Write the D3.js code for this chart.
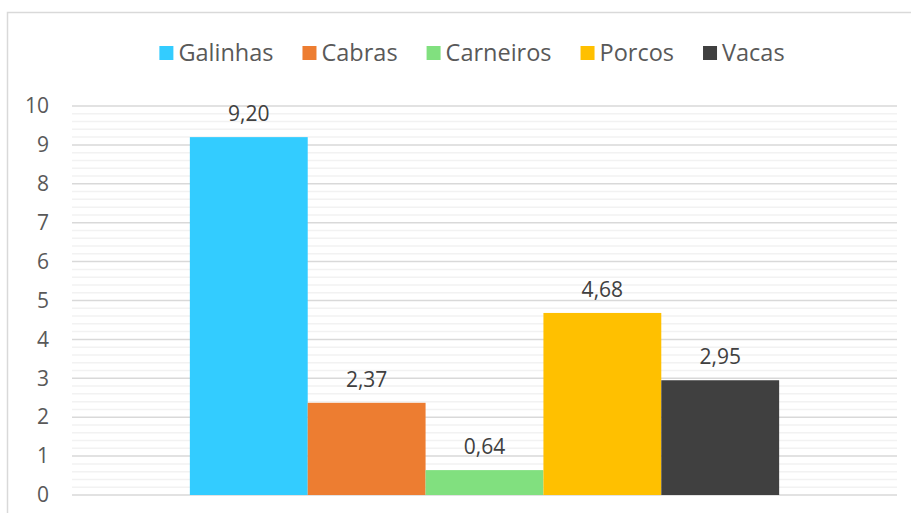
<!DOCTYPE html>
<html>
<head>
<meta charset="utf-8">
<script src="https://cdn.jsdelivr.net/npm/d3@7"></script>
<style>
  body { margin: 0; background: #fff; }
  svg { display: block; font-family: "Open Sans", sans-serif; }
</style>
</head>
<body>
<div id="chart"></div>
<script>
var categories = ["Animais"];
var series = ["Galinhas", "Cabras", "Carneiros", "Porcos", "Vacas"];
var values = [9.20, 2.37, 0.64, 4.68, 2.95];
var colors = ["#33ccff", "#ed7d31", "#81e07f", "#ffc000", "#404040"];
var yTicks = [0, 1, 2, 3, 4, 5, 6, 7, 8, 9, 10];

var width = 911, height = 513;
var margin = {top: 106, right: 14, bottom: 18, left: 72};

var svg = d3.select("#chart").append("svg")
    .attr("width", width)
    .attr("height", height);

// frame of the chart
svg.append("rect")
    .attr("x", 7.5).attr("y", 12.5)
    .attr("width", 930).attr("height", 530)
    .attr("fill", "#fff")
    .attr("stroke", "#d9d9d9")
    .attr("stroke-width", 1.5);

var innerW = width - margin.left - margin.right,
    innerH = height - margin.top - margin.bottom;

var g = svg.append("g").attr("transform", "translate(" + margin.left + "," + margin.top + ")");

var x0 = d3.scaleBand()
    .domain(categories)
    .range([0, innerW])
    .paddingInner(0)
    .paddingOuter(0.2);

var x1 = d3.scaleBand()
    .domain(series)
    .range([0, x0.bandwidth()]);

var y = d3.scaleLinear()
    .domain([0, 10])
    .range([innerH, 0]);

var z = d3.scaleOrdinal().domain(series).range(colors);

// minor grid every 0.2
var minor = d3.range(0, 10.001, 0.2).filter(function(v) { return Math.abs(v - Math.round(v)) > 0.01; });
g.append("g").selectAll("line")
    .data(minor)
    .enter().append("line")
    .attr("x1", 0).attr("x2", innerW)
    .attr("y1", function(d) { return y(d); })
    .attr("y2", function(d) { return y(d); })
    .attr("stroke", "#f2f2f2")
    .attr("stroke-width", 1.5);

g.append("g").selectAll("line")
    .data(yTicks)
    .enter().append("line")
    .attr("x1", 0).attr("x2", innerW)
    .attr("y1", function(d) { return y(d); })
    .attr("y2", function(d) { return y(d); })
    .attr("stroke", "#d9d9d9")
    .attr("stroke-width", 1.5);

// y axis labels
var yAxis = d3.axisLeft(y).tickValues(yTicks).tickSize(0).tickPadding(23);
g.append("g")
    .call(yAxis)
    .call(function(a) { a.select(".domain").remove(); })
    .selectAll("text")
    .attr("font-family", "Open Sans, sans-serif")
    .attr("font-size", 21)
    .attr("fill", "#595959");

// bars
var data = series.map(function(s, i) { return {key: s, value: values[i], cat: categories[0]}; });

var bars = g.append("g")
    .attr("transform", "translate(" + x0(categories[0]) + ",0)");

bars.selectAll("rect")
    .data(data)
    .enter().append("rect")
    .attr("x", function(d) { return x1(d.key); })
    .attr("y", function(d) { return y(d.value); })
    .attr("width", x1.bandwidth())
    .attr("height", function(d) { return innerH - y(d.value); })
    .attr("fill", function(d) { return z(d.key); });

bars.selectAll("text")
    .data(data)
    .enter().append("text")
    .attr("x", function(d) { return x1(d.key) + x1.bandwidth() / 2; })
    .attr("y", function(d) { return y(d.value) - 16; })
    .attr("text-anchor", "middle")
    .attr("font-size", 21)
    .attr("fill", "#404040")
    .text(function(d) { return d.value.toFixed(2).replace(".", ","); });

// legend
var legend = svg.append("g").attr("font-size", 23.5).attr("fill", "#595959");
var items = legend.selectAll("g")
    .data(series)
    .enter().append("g");

items.append("rect")
    .attr("width", 14).attr("height", 14)
    .attr("y", 46)
    .attr("fill", z);

items.append("text")
    .attr("x", 19)
    .attr("y", 61)
    .text(function(d) { return d; });

var xpos = 0, offsets = [];
items.each(function() {
    offsets.push(xpos);
    var w = d3.select(this).select("text").node().getComputedTextLength();
    xpos += 19 + w + 29;
});
var total = xpos - 29;
var start = 472 - total / 2;
items.attr("transform", function(d, i) { return "translate(" + (start + offsets[i]) + ",0)"; });
</script>
</body>
</html>
